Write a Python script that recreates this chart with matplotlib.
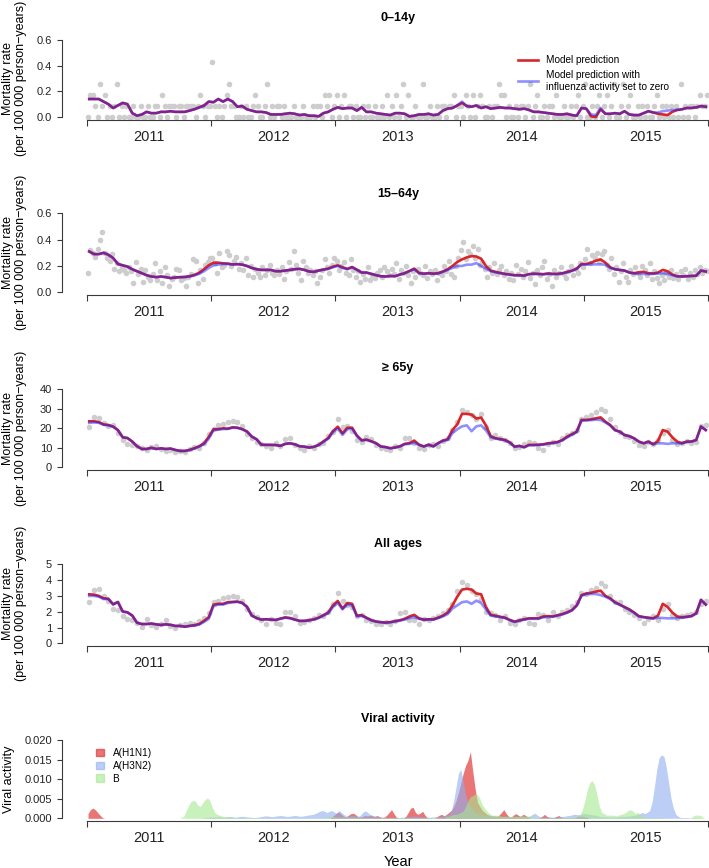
import numpy as np
import matplotlib
matplotlib.use('Agg')
import matplotlib.pyplot as plt
from matplotlib.lines import Line2D
from matplotlib.patches import Patch

plt.rcParams['font.family'] = ['Liberation Sans', 'DejaVu Sans']

W, H = 709, 868
year_labels = ['2011', '2012', '2013', '2014', '2015']

# ---- observed mortality (weekly for 0-14y and 15-64y, fortnightly for the others)
obs_0_14 = [
    0, .17, .17, .085, 0, .255, .085, .17, 0, .085, 0, .085, .255, 0, .085, 0, .085, 0, 0, .085, 0, 0, .085, 0, 0, .085,
    0, 0, .085, .085, 0, .17, .085, 0, .085, .085, .085, 0, .085, .085, 0, .085, .085, .085, .085, 0, .085, .17, .085, 0, .085, .085,
    .425, .085, 0, .085, 0, .085, .17, .255, .085, .085, 0, 0, .085, 0, .085, 0, 0, .085, .17, .085, 0, 0, .085, .255, 0, .085,
    0, .085, .085, 0, .085, 0, 0, 0, .085, 0, 0, 0, .085, 0, 0, 0, .085, 0, .085, .085, 0, .17, .085, .17, 0, .085,
    .17, 0, .085, .17, 0, .085, .085, 0, .085, 0, 0, .085, 0, .085, 0, 0, .085, 0, 0, .085, 0, .17, 0, .085, 0, .17,
    0, .085, .255, 0, .17, 0, 0, .085, 0, 0, .255, 0, 0, .085, 0, 0, .085, 0, .085, .085, 0, .085, .085, .17, 0, .085,
    .085, 0, .17, .085, 0, .17, 0, .085, .17, .085, 0, 0, .085, 0, .085, .085, .255, .17, .17, 0, .085, 0, 0, .085, 0, .085,
    .085, 0, .085, .255, 0, .085, .17, 0, 0, .085, 0, .085, .085, 0, .17, 0, 0, .085, 0, 0, .085, 0, .085, .17, 0, .085,
    .255, 0, 0, .085, 0, .085, .17, 0, .085, .17, 0, .085, .255, 0, 0, .085, .255, 0, .085, .17, 0, 0, .085, 0, .085, 0,
    .085, 0, 0, .085, .17, 0, .085, 0, .085, 0, .085, 0, .085, 0, .255, 0, .085, 0, .085, .085, 0, .085, .17, .085, .085, .17,
]
obs_15_64 = [
    0.15, 0.32, 0.30, 0.27, 0.33, 0.40, 0.46, 0.30, 0.26, 0.24, 0.29, 0.18, 0.22, 0.16, 0.19, 0.17, 0.15, 0.19, 0.16, 0.07,
    0.23, 0.14, 0.18, 0.08, 0.17, 0.12, 0.09, 0.14, 0.22, 0.09, 0.16, 0.07, 0.19, 0.13, 0.05, 0.10, 0.12, 0.18, 0.17, 0.09,
    0.11, 0.05, 0.12, 0.14, 0.25, 0.24, 0.07, 0.17, 0.10, 0.21, 0.23, 0.26,
    0.26, 0.22, 0.15, 0.30, 0.19, 0.21, 0.31, 0.28, 0.20, 0.24, 0.27, 0.18, 0.22, 0.17, 0.26, 0.13, 0.20, 0.12, 0.18, 0.15,
    0.12, 0.19, 0.13, 0.17, 0.21, 0.15, 0.13, 0.17, 0.14, 0.19, 0.10, 0.16, 0.23, 0.18, 0.31, 0.21, 0.15, 0.09, 0.24, 0.19,
    0.15, 0.17, 0.13, 0.16, 0.07, 0.12, 0.17, 0.25, 0.19, 0.15, 0.21, 0.26,
    0.24, 0.17, 0.20, 0.23, 0.15, 0.13, 0.25, 0.17, 0.12, 0.16, 0.08, 0.14, 0.10, 0.19, 0.09, 0.13, 0.11, 0.15, 0.17, 0.12,
    0.19, 0.16, 0.13, 0.18, 0.14, 0.22, 0.10, 0.17, 0.15, 0.20, 0.13, 0.07, 0.16, 0.12, 0.18, 0.15, 0.13, 0.20, 0.11, 0.16,
    0.14, 0.17, 0.09, 0.15, 0.13, 0.20, 0.16, 0.24, 0.14, 0.12, 0.20, 0.26,
    0.32, 0.38, 0.25, 0.31, 0.29, 0.35, 0.26, 0.33, 0.21, 0.23, 0.18, 0.12, 0.19, 0.15, 0.22, 0.14, 0.17, 0.20, 0.13, 0.16,
    0.10, 0.15, 0.09, 0.21, 0.14, 0.18, 0.12, 0.16, 0.23, 0.11, 0.15, 0.06, 0.17, 0.13, 0.19, 0.24, 0.10, 0.14, 0.05, 0.17,
    0.12, 0.15, 0.19, 0.14, 0.11, 0.16, 0.20, 0.13, 0.18, 0.15, 0.22, 0.19,
    0.25, 0.33, 0.22, 0.28, 0.26, 0.30, 0.24, 0.29, 0.31, 0.21, 0.18, 0.26, 0.14, 0.19, 0.08, 0.16, 0.22, 0.12, 0.08, 0.17,
    0.14, 0.19, 0.15, 0.12, 0.20, 0.17, 0.13, 0.22, 0.10, 0.16, 0.11, 0.07, 0.13, 0.09, 0.15, 0.12, 0.17, 0.11, 0.14, 0.10,
    0.16, 0.13, 0.18, 0.10, 0.15, 0.12, 0.17, 0.14, 0.19, 0.15, 0.17, 0.16,
]
obs_65 = [
    20.5, 26.0, 25.5, 22.5, 21.0, 21.5, 17.5, 14.0, 12.0, 11.5, 11.0, 10.0, 9.0, 10.5, 11.0, 9.5, 8.5, 9.0, 8.0, 8.5, 8.0, 9.5, 10.5, 10.0, 12.5, 17.0,
    19.5, 21.5, 22.0, 23.0, 23.5, 23.0, 21.0, 17.0, 15.0, 13.0, 12.0, 11.0, 10.0, 12.5, 11.0, 14.5, 15.0, 11.5, 10.0, 9.0, 11.0, 10.0, 12.0, 12.5, 16.0, 18.0,
    25.0, 20.5, 21.0, 18.5, 14.0, 13.0, 15.5, 14.5, 11.5, 10.0, 9.5, 9.0, 11.0, 10.0, 15.0, 15.0, 12.5, 10.0, 9.5, 11.5, 12.0, 11.0, 13.5, 15.0, 19.0, 23.0,
    29.5, 28.5, 27.0, 25.0, 27.5, 20.5, 15.0, 16.5, 15.0, 14.0, 12.5, 10.0, 10.5, 12.0, 13.0, 12.5, 10.0, 9.0, 12.0, 13.0, 12.0, 15.0, 16.5, 17.5, 19.0, 25.0,
    26.0, 27.0, 28.5, 30.0, 29.0, 25.0, 20.5, 18.0, 16.0, 15.5, 13.5, 11.5, 11.0, 13.0, 12.0, 14.0, 17.5, 19.0, 14.0, 12.0, 12.5, 13.5, 12.5, 13.0, 21.0, 21.5,
]
obs_all = [
    2.6, 3.4, 3.45, 3.0, 2.7, 2.2, 2.1, 1.75, 1.55, 1.5, 1.3, 1.05, 1.55, 1.15, 1.05, 1.2, 1.45, 1.1, 1.0, 1.15, 1.25, 1.3, 1.2, 1.4, 1.6, 1.9,
    2.6, 2.7, 2.85, 2.95, 3.0, 2.9, 2.7, 2.2, 1.85, 1.65, 1.5, 1.2, 1.55, 1.3, 1.25, 1.95, 2.0, 1.7, 1.3, 1.35, 1.45, 1.6, 1.8, 1.7, 2.0, 2.5,
    3.2, 2.7, 2.4, 2.3, 1.7, 1.8, 1.5, 1.4, 1.25, 1.2, 1.35, 1.2, 1.4, 1.9, 1.95, 1.5, 1.45, 1.2, 1.55, 1.5, 1.6, 1.75, 1.9, 2.1, 2.5, 3.3,
    3.85, 3.7, 3.3, 3.1, 2.8, 2.0, 1.9, 1.8, 1.5, 1.7, 1.3, 1.2, 1.5, 1.6, 1.3, 1.2, 1.85, 1.8, 1.5, 1.95, 1.75, 2.0, 2.1, 2.35, 2.6, 3.2,
    3.1, 3.4, 3.5, 3.8, 3.65, 3.0, 2.6, 2.6, 2.2, 2.0, 1.8, 1.6, 1.3, 1.55, 1.75, 1.5, 2.2, 2.5, 1.8, 1.6, 1.7, 1.8, 1.85, 2.0, 2.5, 2.7,
]

# ---- model predictions (fortnightly); red = full model, blue = influenza set to zero
red_0_14 = [
    0.14, 0.14, 0.14, 0.12, 0.10, 0.07, 0.09, 0.11, 0.10, 0.03, 0.01, 0.02, 0.04, 0.03, 0.03, 0.04, 0.04, 0.045, 0.04, 0.04, 0.04, 0.05, 0.06, 0.075, 0.09, 0.12,
    0.115, 0.14, 0.12, 0.14, 0.12, 0.08, 0.085, 0.06, 0.05, 0.04, 0.04, 0.035, 0.02, 0.02, 0.02, 0.025, 0.03, 0.025, 0.015, 0.02, 0.01, 0.01, 0.005, 0.03, 0.04, 0.06,
    0.075, 0.065, 0.07, 0.07, 0.05, 0.075, 0.04, 0.04, 0.03, 0.025, 0.02, 0.015, 0.03, 0.03, 0.025, 0.005, 0.01, 0.02, 0.02, 0.025, 0.015, 0.02, 0.05, 0.065, 0.07, 0.09,
    0.11, 0.085, 0.08, 0.09, 0.07, 0.08, 0.065, 0.07, 0.075, 0.07, 0.07, 0.065, 0.06, 0.065, 0.055, 0.04, 0.04, 0.035, 0.03, 0.025, 0.02, 0.02, 0.025, 0.015, 0.01, 0.07,
    0.065, 0.005, 0.0, 0.06, 0.025, 0.025, 0.03, 0.025, 0.045, 0.02, 0.015, 0.015, 0.03, 0.045, 0.035, 0.025, 0.02, 0.015, 0.04, 0.055, 0.06, 0.07, 0.07, 0.075, 0.085, 0.08,
]
blue_0_14 = [
    0.14, 0.14, 0.14, 0.12, 0.10, 0.07, 0.09, 0.11, 0.10, 0.03, 0.01, 0.02, 0.04, 0.03, 0.03, 0.04, 0.04, 0.045, 0.04, 0.04, 0.04, 0.05, 0.06, 0.075, 0.085, 0.12,
    0.115, 0.14, 0.12, 0.14, 0.12, 0.08, 0.085, 0.06, 0.05, 0.04, 0.04, 0.035, 0.02, 0.02, 0.02, 0.025, 0.03, 0.025, 0.015, 0.02, 0.01, 0.01, 0.005, 0.03, 0.04, 0.06,
    0.075, 0.065, 0.07, 0.07, 0.05, 0.075, 0.04, 0.04, 0.03, 0.025, 0.02, 0.015, 0.03, 0.03, 0.025, 0.005, 0.01, 0.02, 0.02, 0.025, 0.015, 0.02, 0.05, 0.065, 0.07, 0.09,
    0.12, 0.085, 0.08, 0.09, 0.07, 0.08, 0.065, 0.07, 0.075, 0.07, 0.07, 0.065, 0.06, 0.065, 0.055, 0.04, 0.04, 0.035, 0.03, 0.025, 0.02, 0.02, 0.025, 0.015, 0.01, 0.07,
    0.065, 0.02, 0.015, 0.07, 0.025, 0.025, 0.03, 0.025, 0.045, 0.02, 0.015, 0.015, 0.03, 0.045, 0.035, 0.035, 0.045, 0.05, 0.055, 0.055, 0.06, 0.07, 0.07, 0.075, 0.085, 0.08,
]
red_15_64 = [
    0.31, 0.29, 0.29, 0.30, 0.285, 0.26, 0.215, 0.205, 0.195, 0.175, 0.16, 0.145, 0.13, 0.12, 0.115, 0.12, 0.115, 0.108, 0.112, 0.115, 0.117, 0.122, 0.132, 0.148, 0.175, 0.205,
    0.225, 0.225, 0.22, 0.218, 0.212, 0.214, 0.21, 0.2, 0.185, 0.175, 0.17, 0.17, 0.17, 0.16, 0.16, 0.165, 0.17, 0.175, 0.178, 0.17, 0.158, 0.155, 0.165, 0.172, 0.18, 0.195,
    0.205, 0.19, 0.178, 0.192, 0.172, 0.15, 0.15, 0.14, 0.13, 0.122, 0.12, 0.124, 0.122, 0.135, 0.145, 0.162, 0.18, 0.147, 0.142, 0.145, 0.142, 0.145, 0.158, 0.175, 0.2, 0.23,
    0.25, 0.265, 0.275, 0.272, 0.255, 0.2, 0.165, 0.155, 0.147, 0.14, 0.135, 0.13, 0.13, 0.127, 0.138, 0.142, 0.14, 0.138, 0.143, 0.14, 0.14, 0.145, 0.155, 0.165, 0.18, 0.215,
    0.215, 0.225, 0.24, 0.25, 0.225, 0.19, 0.175, 0.17, 0.165, 0.15, 0.145, 0.152, 0.155, 0.145, 0.143, 0.15, 0.17, 0.16, 0.135, 0.122, 0.12, 0.122, 0.124, 0.126, 0.165, 0.158,
]
blue_15_64 = [
    0.31, 0.29, 0.29, 0.30, 0.285, 0.26, 0.215, 0.205, 0.195, 0.175, 0.16, 0.145, 0.13, 0.12, 0.115, 0.12, 0.115, 0.108, 0.112, 0.115, 0.115, 0.12, 0.128, 0.14, 0.16, 0.185,
    0.205, 0.21, 0.215, 0.215, 0.21, 0.213, 0.21, 0.2, 0.185, 0.175, 0.17, 0.17, 0.17, 0.16, 0.16, 0.165, 0.17, 0.175, 0.178, 0.17, 0.158, 0.155, 0.165, 0.172, 0.178, 0.19,
    0.2, 0.185, 0.175, 0.19, 0.17, 0.15, 0.15, 0.14, 0.13, 0.122, 0.12, 0.124, 0.122, 0.135, 0.145, 0.16, 0.175, 0.145, 0.14, 0.143, 0.14, 0.142, 0.155, 0.17, 0.185, 0.2,
    0.2, 0.21, 0.21, 0.222, 0.2, 0.18, 0.16, 0.152, 0.145, 0.138, 0.133, 0.128, 0.128, 0.125, 0.136, 0.14, 0.138, 0.136, 0.14, 0.138, 0.138, 0.143, 0.152, 0.162, 0.178, 0.21,
    0.21, 0.212, 0.212, 0.212, 0.21, 0.185, 0.175, 0.17, 0.165, 0.15, 0.143, 0.14, 0.14, 0.138, 0.14, 0.142, 0.145, 0.14, 0.13, 0.12, 0.12, 0.122, 0.124, 0.126, 0.165, 0.158,
]
red_65 = [
    23.6, 23.6, 23.2, 22.0, 21.7, 20.9, 19.1, 15.4, 15.0, 13.2, 10.8, 9.4, 9.4, 10.0, 9.4, 9.7, 9.4, 9.6, 8.9, 8.4, 8.4, 8.9, 9.8, 10.8, 12.3, 15.6,
    19.5, 19.6, 20.0, 19.8, 20.5, 20.3, 19.6, 18.4, 15.8, 14.4, 11.6, 11.5, 11.5, 11.4, 11.0, 12.0, 12.3, 11.8, 10.8, 10.6, 10.1, 10.5, 11.5, 13.3, 15.0, 18.6,
    20.8, 17.4, 20.3, 20.3, 16.3, 13.9, 14.2, 13.4, 12.4, 10.7, 10.4, 9.8, 10.2, 10.8, 12.0, 12.4, 13.7, 11.6, 10.7, 11.6, 10.8, 12.4, 13.7, 14.4, 19.1, 22.0,
    27.4, 27.4, 27.0, 25.0, 25.5, 21.5, 16.0, 14.9, 14.5, 14.0, 12.8, 10.6, 11.0, 10.3, 11.5, 11.5, 11.6, 11.8, 12.3, 12.6, 13.0, 14.0, 15.7, 17.0, 18.3, 24.3,
    24.3, 24.6, 25.1, 25.6, 23.4, 21.7, 19.1, 18.3, 16.6, 16.0, 14.9, 13.2, 12.3, 13.2, 11.8, 13.5, 19.1, 18.3, 15.4, 13.2, 12.3, 13.2, 13.2, 14.0, 20.9, 19.1,
]
blue_65 = [
    22.8, 23.0, 22.8, 21.8, 21.5, 20.8, 19.0, 15.4, 15.0, 13.2, 10.8, 9.4, 9.4, 10.0, 9.4, 9.7, 9.4, 9.6, 8.9, 8.4, 8.4, 8.9, 9.6, 10.6, 11.8, 14.6,
    19.1, 19.3, 19.6, 19.7, 20.3, 20.2, 19.5, 18.3, 15.7, 14.4, 11.6, 11.5, 11.5, 11.4, 11.0, 12.0, 12.3, 11.8, 10.8, 10.6, 10.1, 10.5, 11.4, 13.0, 14.6, 18.0,
    19.8, 16.6, 19.5, 19.8, 16.0, 13.7, 14.0, 13.2, 12.3, 10.6, 10.3, 9.7, 10.1, 10.6, 11.8, 12.0, 12.6, 11.5, 10.6, 11.5, 10.6, 12.3, 13.5, 14.0, 17.5, 19.5,
    21.0, 21.5, 18.5, 21.0, 21.5, 19.0, 15.4, 14.7, 14.3, 13.8, 12.6, 10.5, 10.9, 10.2, 11.3, 11.3, 11.4, 11.6, 12.1, 12.4, 12.8, 13.8, 15.4, 16.7, 18.0, 24.0,
    24.0, 24.2, 24.4, 24.3, 23.0, 21.5, 19.0, 18.2, 16.5, 15.9, 14.8, 13.1, 12.3, 13.0, 11.8, 12.3, 12.3, 12.0, 12.3, 12.3, 12.3, 13.0, 13.2, 14.0, 20.9, 19.1,
]
red_all = [
    3.1, 3.08, 3.0, 2.85, 2.82, 2.47, 2.62, 2.02, 1.96, 1.76, 1.3, 1.22, 1.22, 1.25, 1.2, 1.16, 1.2, 1.17, 1.1, 1.1, 1.05, 1.1, 1.15, 1.22, 1.42, 1.65,
    2.45, 2.5, 2.5, 2.6, 2.62, 2.64, 2.56, 2.32, 1.76, 1.6, 1.5, 1.52, 1.5, 1.48, 1.56, 1.64, 1.6, 1.5, 1.42, 1.42, 1.46, 1.52, 1.62, 1.78, 1.95, 2.4,
    2.68, 2.2, 2.55, 2.5, 1.75, 1.78, 1.62, 1.47, 1.38, 1.34, 1.31, 1.34, 1.4, 1.46, 1.55, 1.7, 1.8, 1.58, 1.5, 1.52, 1.52, 1.62, 1.75, 1.95, 2.4, 2.95,
    3.4, 3.45, 3.4, 3.15, 3.1, 2.3, 1.8, 1.75, 1.68, 1.62, 1.48, 1.37, 1.45, 1.52, 1.58, 1.58, 1.58, 1.7, 1.72, 1.7, 1.78, 1.85, 1.96, 2.1, 2.4, 3.05,
    3.15, 3.2, 3.27, 3.33, 3.0, 2.85, 2.6, 2.45, 2.3, 2.15, 1.95, 1.72, 1.66, 1.62, 1.58, 1.75, 2.5, 2.3, 1.95, 1.7, 1.65, 1.68, 1.72, 1.9, 2.75, 2.45,
]
blue_all = [
    3.0, 3.0, 2.95, 2.8, 2.8, 2.45, 2.6, 2.0, 1.95, 1.75, 1.3, 1.22, 1.22, 1.25, 1.2, 1.16, 1.2, 1.17, 1.1, 1.1, 1.05, 1.1, 1.12, 1.18, 1.35, 1.55,
    2.35, 2.45, 2.45, 2.55, 2.6, 2.62, 2.55, 2.3, 1.75, 1.6, 1.5, 1.52, 1.5, 1.48, 1.55, 1.62, 1.58, 1.5, 1.42, 1.42, 1.45, 1.5, 1.6, 1.75, 1.9, 2.3,
    2.55, 2.15, 2.45, 2.4, 1.7, 1.75, 1.6, 1.45, 1.37, 1.33, 1.3, 1.33, 1.38, 1.43, 1.5, 1.6, 1.65, 1.55, 1.48, 1.5, 1.5, 1.6, 1.7, 1.85, 2.2, 2.4,
    2.6, 2.65, 2.5, 2.7, 2.55, 2.15, 1.75, 1.7, 1.65, 1.6, 1.46, 1.35, 1.43, 1.5, 1.55, 1.55, 1.55, 1.65, 1.65, 1.68, 1.75, 1.83, 1.93, 2.08, 2.38, 3.0,
    3.12, 3.12, 3.12, 3.05, 2.95, 2.8, 2.58, 2.43, 2.28, 2.12, 1.93, 1.7, 1.65, 1.6, 1.57, 1.62, 1.6, 1.58, 1.58, 1.6, 1.62, 1.66, 1.72, 1.88, 2.75, 2.45,
]

# ---- weekly viral activity
h1n1 = (
    [0.0012, 0.0022, 0.0026, 0.0022, 0.0015, 0.0008, 0.0002] + [0.0] * 45
    + [0.0] * 50 + [0.0003, 0.0008]
    + [0.0014, 0.0016, 0.001, 0.0005, 0.0003, 0.0008, 0.0012, 0.0013, 0.0009, 0.0004,
       0.0003, 0.0005, 0.0007, 0.0006, 0.0008, 0.0006, 0.0005, 0.0007, 0.0004, 0.0002,
       0.0003, 0.0008, 0.0015, 0.0022, 0.0012, 0.0003, 0.0, 0.0, 0.0, 0.0005,
       0.0015, 0.0026, 0.0028, 0.0015, 0.001, 0.0013, 0.0018, 0.0008, 0.0001, 0.0,
       0.0, 0.0, 0.0004, 0.0008, 0.001, 0.0006, 0.001, 0.0015, 0.002, 0.003, 0.0045, 0.0065]
    + [0.009, 0.0115, 0.0135, 0.0148, 0.017, 0.012, 0.0075, 0.004, 0.003, 0.002,
       0.0015, 0.001, 0.0008, 0.0006, 0.0006, 0.0005, 0.0008, 0.0015, 0.0022, 0.0012,
       0.0005, 0.0003, 0.0008, 0.0012, 0.0008, 0.0005, 0.001, 0.0008, 0.0003, 0.0001,
       0.0, 0.0, 0.0, 0.0002, 0.0005, 0.001, 0.0005, 0.0002, 0.0002, 0.0002,
       0.0005, 0.0007, 0.0003, 0.0001, 0.0001, 0.0001, 0.0001, 0.0001, 0.0002, 0.0005, 0.0006, 0.0005]
    + [0.0004, 0.0002] + [0.0] * 50
)
h3n2 = (
    [0.0] * 48 + [0.0001, 0.0002, 0.0002, 0.0003]
    + [0.0003, 0.0003, 0.0004, 0.0004, 0.0003, 0.0003, 0.0004, 0.0005, 0.0004,
       0.0003, 0.0003, 0.0004, 0.0005, 0.0005, 0.0004, 0.0003, 0.0003, 0.0002, 0.0002,
       0.0003, 0.0004, 0.0005, 0.0006, 0.0006, 0.0005, 0.0004, 0.0005, 0.0006, 0.0007,
       0.0007, 0.0006, 0.0005, 0.0005, 0.0006, 0.0007, 0.0007, 0.0006, 0.0005, 0.0006,
       0.0007, 0.0008, 0.0009, 0.0010, 0.0012, 0.0015, 0.0018, 0.0020, 0.0018,
       0.0015, 0.0018, 0.0020, 0.0016]
    + [0.0012, 0.0020, 0.0015, 0.0010, 0.0006, 0.0005, 0.0008, 0.0008, 0.0006, 0.0005,
       0.0008, 0.0015, 0.0019, 0.0015, 0.0010, 0.0008, 0.0005,
       0.0004, 0.0003, 0.0003, 0.0002, 0.0002, 0.0003, 0.0003, 0.0002, 0.0002, 0.0002,
       0.0003, 0.0003, 0.0004, 0.0004, 0.0005,
       0.0005, 0.0006, 0.0005, 0.0004, 0.0004, 0.0003, 0.0003, 0.0003, 0.0003, 0.0004,
       0.0004, 0.0005, 0.0005, 0.0006, 0.0008,
       0.001, 0.002, 0.0045, 0.008, 0.0115]
    + [0.0125, 0.0095, 0.006, 0.004, 0.003, 0.002, 0.0015, 0.0012, 0.001, 0.001,
       0.0008, 0.0007, 0.0006, 0.0005, 0.0005, 0.0005, 0.0004, 0.0004, 0.0005, 0.0005,
       0.0004, 0.0004, 0.0003, 0.0003, 0.0004, 0.0005, 0.0005, 0.0004, 0.0004, 0.0006,
       0.001, 0.0013, 0.0008,
       0.0004, 0.0003, 0.0003, 0.0004, 0.0004, 0.0003, 0.0003, 0.0004, 0.0004, 0.0005, 0.0005, 0.0006,
       0.0007, 0.0008, 0.001, 0.001, 0.0009, 0.0010, 0.0012]
    + [0.0012, 0.0011, 0.001, 0.0009, 0.0008, 0.0007,
       0.0005, 0.0004, 0.0004, 0.0004, 0.0003, 0.0003, 0.0003, 0.0004, 0.0004, 0.0005,
       0.0005, 0.0005, 0.0006, 0.0006, 0.0007, 0.0008, 0.001,
       0.0012, 0.0015, 0.0012, 0.0015, 0.002,
       0.004, 0.008, 0.0125, 0.0155, 0.0162, 0.0158, 0.013, 0.009, 0.005, 0.0025, 0.001, 0.0005,
       0.0002, 0.0002, 0.0002, 0.0002, 0.0001, 0.0001, 0.0001, 0.0001, 0.0, 0.0, 0.0, 0.0]
)
flu_b = (
    [0.0] * 39 + [0.0002, 0.0005, 0.0018, 0.0032, 0.0042, 0.0046, 0.0043, 0.0033, 0.003, 0.004, 0.0048, 0.0052, 0.0045]
    + [0.0028, 0.0015, 0.001, 0.0008, 0.0006] + [0.0004] * 4 + [0.0002] * 10 + [0.0001] * 29
    + [0.0003, 0.0005, 0.0005, 0.0004]
    + [0.0003] * 11 + [0.0002] * 35 + [0.0005, 0.0005, 0.0008, 0.001, 0.001, 0.0012]
    + [0.0015, 0.0018, 0.003, 0.0045, 0.0055, 0.0058, 0.0062, 0.006, 0.005, 0.0035, 0.0025, 0.0018, 0.0012]
    + [0.0008] * 4 + [0.0005] * 8 + [0.0006] * 5 + [0.0002] * 15 + [0.0003] * 5 + [0.001, 0.0025]
    + [0.0048, 0.0075, 0.0092, 0.0096, 0.0085, 0.006, 0.003, 0.0015, 0.0012] + [0.0008] * 4
    + [0.0006, 0.0008, 0.001, 0.0012, 0.0015, 0.002, 0.0022, 0.0018, 0.0012, 0.0015, 0.001, 0.0005]
    + [0.0002] * 8 + [0.0] * 12 + [0.0005, 0.0008, 0.0008, 0.0008, 0.0005, 0.0, 0.0]
)

RED = '#d8262a'
BLUE = '#2020ff'
GREY = '#cdcdcd'
AXC = '#3a3a3a'

fig = plt.figure(figsize=(W / 100, H / 100), dpi=100)

weeks = 2011 + (np.arange(260) + 0.5) / 52
fortn = 2011 + (np.arange(130) * 2 + 1) / 52


def make_axes(ypix_lo, ypix_hi, lo, hi, ticks, ticklabels):
    ext = 0.04 * (hi - lo)
    ppu = (ypix_lo - ypix_hi) / (hi - lo)
    bot = ypix_lo + ext * ppu
    top = ypix_hi - ext * ppu
    ax = fig.add_axes([62 / W, 1 - bot / H, 671 / W, (bot - top) / H])
    ax.set_xlim(2011 - 0.2, 2016 + 0.2)
    ax.set_ylim(lo - ext, hi + ext)
    ax.patch.set_alpha(0)
    for s in ['top', 'right']:
        ax.spines[s].set_visible(False)
    ax.spines['left'].set_bounds(lo, hi)
    ax.spines['bottom'].set_bounds(2011, 2016)
    for s in ['left', 'bottom']:
        ax.spines[s].set_linewidth(0.8)
        ax.spines[s].set_color(AXC)
    ax.set_yticks(ticks)
    ax.set_yticklabels(ticklabels)
    ax.set_xticks(range(2011, 2017))
    ax.set_xticklabels([])
    ax.set_xticks([y + 0.5 for y in range(2011, 2016)], minor=True)
    ax.set_xticklabels(year_labels, minor=True)
    ax.tick_params(axis='y', length=3.6, width=0.8, pad=3.5, labelsize=8, color=AXC, labelcolor='#222222')
    ax.tick_params(axis='x', which='major', length=4.3, width=0.8, color=AXC)
    ax.tick_params(axis='x', which='minor', length=0, pad=7, labelsize=10.5, labelcolor='#222222')
    return ax


ylab = 'Mortality rate\n(per 100 000 person\u2212years)'
panels = [
    ('0\u201314y', weeks, obs_0_14, red_0_14, blue_0_14, 117, 40, 0, 0.6,
     [0, 0.2, 0.4, 0.6], ['0.0', '0.2', '0.4', '0.6'], 18),
    ('15\u201364y', weeks, obs_15_64, red_15_64, blue_15_64, 292.3, 213.3, 0, 0.6,
     [0, 0.2, 0.4, 0.6], ['0.0', '0.2', '0.4', '0.6'], 194),
    ('\u2265 65y', fortn, obs_65, red_65, blue_65, 467.3, 389.3, 0, 40,
     [0, 10, 20, 30, 40], ['0', '10', '20', '30', '40'], 368),
    ('All ages', fortn, obs_all, red_all, blue_all, 643.3, 564.3, 0, 5,
     [0, 1, 2, 3, 4, 5], ['0', '1', '2', '3', '4', '5'], 544),
]

for title, tx, obs, red, blue, plo, phi, lo, hi, ticks, tlabels, ty in panels:
    ax = make_axes(plo, phi, lo, hi, ticks, tlabels)
    ax.scatter(tx, obs, s=16, color=GREY, linewidths=0, zorder=1, clip_on=False)
    ax.plot(fortn, red, color=RED, lw=1.9, zorder=2, solid_joinstyle='round')
    ax.plot(fortn, blue, color=BLUE, lw=1.9, alpha=0.5, zorder=3, solid_joinstyle='round')
    fig.text(398 / W, 1 - ty / H, title, ha='center', va='center', fontsize=9, fontweight='bold')
    fig.text(14.5 / W, 1 - (plo + phi) / 2 / H, ylab, rotation=90, ha='center', va='center',
             fontsize=9, linespacing=1.2)

leg = fig.legend(handles=[Line2D([], [], color=RED, lw=1.9), Line2D([], [], color=BLUE, lw=1.9, alpha=0.5)],
                 labels=['Model prediction', 'Model prediction with\ninfluenza activity set to zero'],
                 loc='upper left', bbox_to_anchor=(518 / W, 1 - 55 / H), frameon=False, fontsize=7.2,
                 handlelength=2.0, handletextpad=0.8, labelspacing=0.45, borderpad=0, borderaxespad=0)
for t in leg.get_texts():
    t.set_linespacing(1.35)

# viral activity panel
vcol = {'A(H1N1)': ('#e03a3a', 0.7), 'A(H3N2)': ('#90aef0', 0.6), 'B': ('#a6e890', 0.6)}
ax = make_axes(818.3, 740, 0, 0.02, [0, 0.005, 0.01, 0.015, 0.02],
               ['0.000', '0.005', '0.010', '0.015', '0.020'])
for name, vals in [('A(H1N1)', h1n1), ('A(H3N2)', h3n2), ('B', flu_b)]:
    c, a = vcol[name]
    ax.fill_between(weeks, 0, vals, color=c, alpha=a, linewidth=0)
fig.text(398 / W, 1 - 719 / H, 'Viral activity', ha='center', va='center', fontsize=9, fontweight='bold')
fig.text(9.5 / W, 1 - 779 / H, 'Viral activity', rotation=90, ha='center', va='center', fontsize=9)
fig.text(398 / W, 1 - 862 / H, 'Year', ha='center', va='center', fontsize=10.5)
ax.legend(handles=[Patch(color=vcol[n][0], alpha=vcol[n][1]) for n in vcol], labels=list(vcol),
          loc='upper left', bbox_to_anchor=(96 / W, 1 - 748 / H), bbox_transform=fig.transFigure,
          frameon=False, fontsize=7.2, handlelength=0.75, handleheight=0.75, handletextpad=0.9,
          labelspacing=0.28, borderpad=0, borderaxespad=0)

fig.savefig('out.png', dpi=100)
